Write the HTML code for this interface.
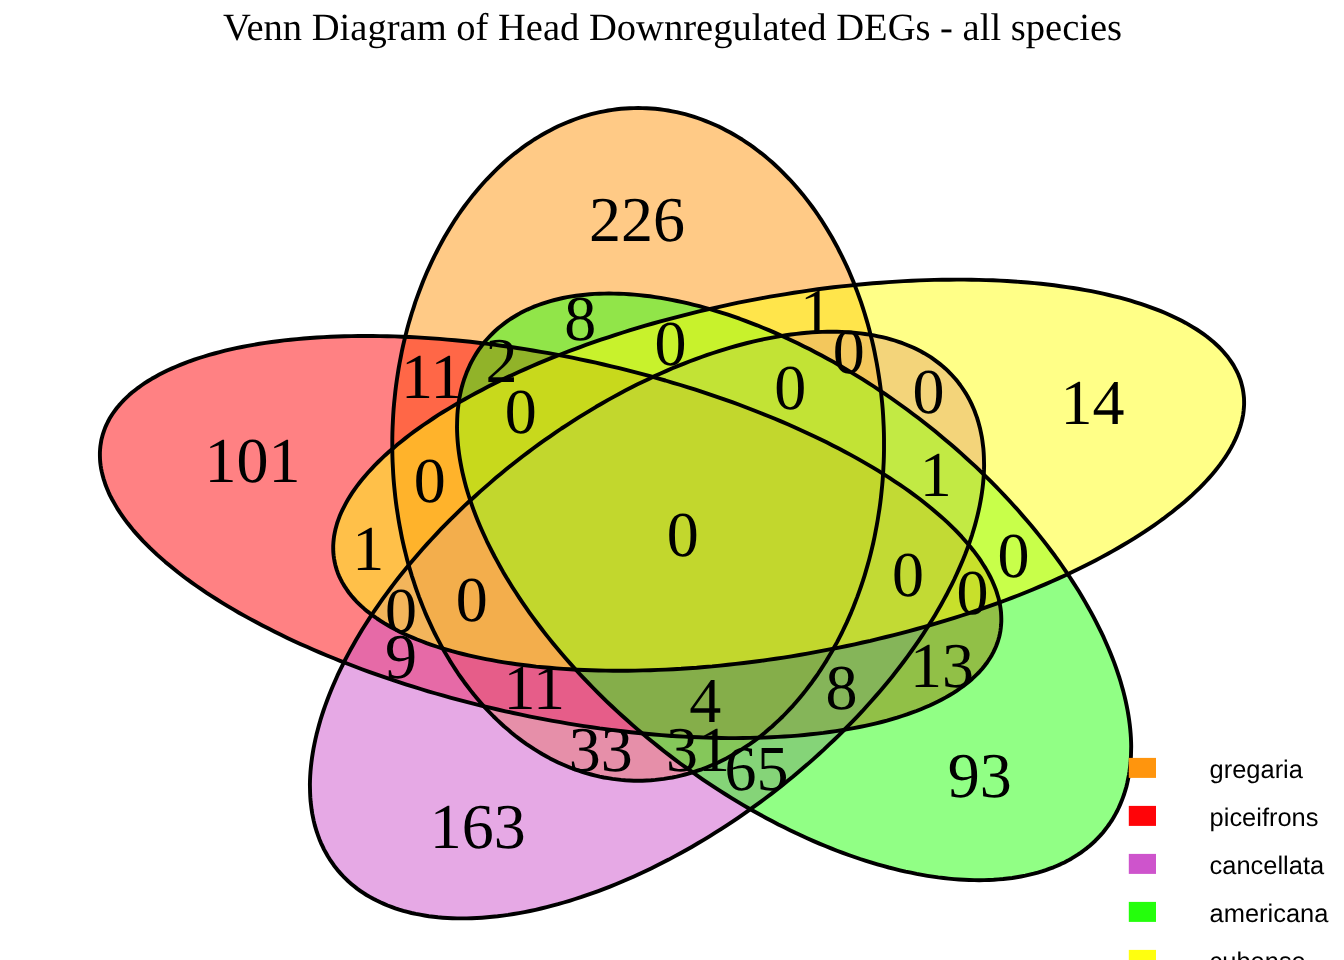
<!DOCTYPE html>
<html><head><meta charset="utf-8"><title>Venn Diagram</title>
<style>
html,body{margin:0;padding:0;background:#fff;}
body{width:1344px;height:960px;overflow:hidden;position:relative;}
svg{position:absolute;left:0;top:0;display:block;will-change:transform;}
text{text-rendering:geometricPrecision;}
.n{font-family:"Liberation Serif",serif;font-size:64px;fill:#000;text-anchor:middle;}
.t{font-family:"Liberation Serif",serif;font-size:38.55px;fill:#000;text-anchor:middle;}
.l{font-family:"Liberation Sans",sans-serif;font-size:25.45px;fill:#000;}
</style></head><body>
<svg width="1344" height="960" viewBox="0 0 1344 960">
<rect width="1344" height="960" fill="#fff"/>

<g stroke="none" fill-opacity="0.5">
<path d="M884.0,444.4L884.0,438.5L883.9,432.6L883.7,426.8L883.4,420.9L883.1,415.1L882.7,409.2L882.2,403.4L881.6,397.6L881.0,391.8L880.3,386.0L879.5,380.2L878.6,374.4L877.7,368.7L876.7,363.0L875.6,357.3L874.5,351.7L873.3,346.0L872.0,340.4L870.6,334.9L869.2,329.3L867.7,323.8L866.1,318.4L864.5,313.0L862.8,307.6L861.0,302.2L859.1,296.9L857.2,291.7L855.2,286.5L853.2,281.3L851.1,276.2L848.9,271.1L846.7,266.1L844.3,261.2L842.0,256.3L839.5,251.5L837.1,246.7L834.5,242.0L831.9,237.3L829.2,232.7L826.5,228.2L823.7,223.7L820.9,219.3L818.0,215.0L815.0,210.7L812.0,206.5L808.9,202.4L805.8,198.4L802.7,194.4L799.4,190.5L796.2,186.7L792.9,183.0L789.5,179.3L786.1,175.8L782.7,172.3L779.2,168.9L775.6,165.5L772.1,162.3L768.4,159.1L764.8,156.1L761.1,153.1L757.3,150.2L753.6,147.4L749.8,144.7L745.9,142.1L742.1,139.5L738.2,137.1L734.2,134.8L730.3,132.5L726.3,130.4L722.2,128.3L718.2,126.3L714.1,124.5L710.0,122.7L705.9,121.1L701.8,119.5L697.6,118.0L693.5,116.6L689.3,115.4L685.1,114.2L680.8,113.1L676.6,112.2L672.4,111.3L668.1,110.5L663.9,109.9L659.6,109.3L655.3,108.8L651.0,108.5L646.7,108.2L642.4,108.1L638.2,108.0L633.9,108.1L629.6,108.2L625.3,108.5L621.0,108.8L616.7,109.3L612.5,109.9L608.2,110.5L603.9,111.3L599.7,112.2L595.5,113.1L591.2,114.2L587.0,115.4L582.8,116.6L578.7,118.0L574.5,119.5L570.4,121.1L566.3,122.7L562.2,124.5L558.1,126.3L554.1,128.3L550.0,130.4L546.1,132.5L542.1,134.8L538.2,137.1L534.2,139.5L530.4,142.1L526.5,144.7L522.7,147.4L519.0,150.2L515.2,153.1L511.5,156.1L507.9,159.1L504.2,162.3L500.7,165.5L497.1,168.9L493.6,172.3L490.2,175.8L486.8,179.3L483.4,183.0L480.1,186.7L476.9,190.5L473.6,194.4L470.5,198.4L467.4,202.4L464.3,206.5L461.3,210.7L458.3,215.0L455.4,219.3L452.6,223.7L449.8,228.2L447.1,232.7L444.4,237.3L441.8,242.0L439.3,246.7L436.8,251.5L434.3,256.3L432.0,261.2L429.7,266.1L427.4,271.1L425.2,276.2L423.1,281.3L421.1,286.5L419.1,291.7L417.2,296.9L415.3,302.2L413.6,307.6L411.8,313.0L410.2,318.4L408.6,323.8L407.1,329.3L405.7,334.9L404.3,340.4L403.0,346.0L401.8,351.7L400.7,357.3L399.6,363.0L398.6,368.7L397.7,374.4L396.8,380.2L396.0,386.0L395.3,391.8L394.7,397.6L394.1,403.4L393.6,409.2L393.2,415.1L392.9,420.9L392.6,426.8L392.4,432.6L392.3,438.5L392.3,444.4L392.3,450.2L392.4,456.1L392.6,462.0L392.9,467.8L393.2,473.7L393.6,479.5L394.1,485.4L394.7,491.2L395.3,497.0L396.0,502.8L396.8,508.6L397.7,514.3L398.6,520.0L399.6,525.7L400.7,531.4L401.8,537.1L403.0,542.7L404.3,548.3L405.7,553.9L407.1,559.4L408.6,564.9L410.2,570.4L411.8,575.8L413.6,581.2L415.3,586.5L417.2,591.8L419.1,597.1L421.1,602.3L423.1,607.4L425.2,612.6L427.4,617.6L429.7,622.6L432.0,627.6L434.3,632.5L436.8,637.3L439.3,642.1L441.8,646.8L444.4,651.5L447.1,656.0L449.8,660.6L452.6,665.0L455.4,669.4L458.3,673.8L461.3,678.0L464.3,682.2L467.4,686.3L470.5,690.4L473.6,694.3L476.9,698.2L480.1,702.0L483.4,705.8L486.8,709.4L490.2,713.0L493.6,716.5L497.1,719.9L500.7,723.2L504.2,726.5L507.9,729.6L511.5,732.7L515.2,735.7L519.0,738.6L522.7,741.4L526.5,744.1L530.4,746.7L534.2,749.2L538.2,751.6L542.1,754.0L546.1,756.2L550.0,758.4L554.1,760.4L558.1,762.4L562.2,764.3L566.3,766.0L570.4,767.7L574.5,769.3L578.7,770.7L582.8,772.1L587.0,773.4L591.2,774.5L595.5,775.6L599.7,776.6L603.9,777.5L608.2,778.2L612.5,778.9L616.7,779.4L621.0,779.9L625.3,780.3L629.6,780.5L633.9,780.7L638.2,780.7L642.4,780.7L646.7,780.5L651.0,780.3L655.3,779.9L659.6,779.4L663.9,778.9L668.1,778.2L672.4,777.5L676.6,776.6L680.8,775.6L685.1,774.5L689.3,773.4L693.5,772.1L697.6,770.7L701.8,769.3L705.9,767.7L710.0,766.0L714.1,764.3L718.2,762.4L722.2,760.4L726.3,758.4L730.3,756.2L734.2,754.0L738.2,751.6L742.1,749.2L745.9,746.7L749.8,744.1L753.6,741.4L757.3,738.6L761.1,735.7L764.8,732.7L768.4,729.6L772.1,726.5L775.6,723.2L779.2,719.9L782.7,716.5L786.1,713.0L789.5,709.4L792.9,705.8L796.2,702.0L799.4,698.2L802.7,694.3L805.8,690.4L808.9,686.3L812.0,682.2L815.0,678.0L818.0,673.8L820.9,669.4L823.7,665.0L826.5,660.6L829.2,656.0L831.9,651.5L834.5,646.8L837.1,642.1L839.5,637.3L842.0,632.5L844.3,627.6L846.7,622.6L848.9,617.6L851.1,612.6L853.2,607.4L855.2,602.3L857.2,597.1L859.1,591.8L861.0,586.5L862.8,581.2L864.5,575.8L866.1,570.4L867.7,564.9L869.2,559.4L870.6,553.9L872.0,548.3L873.3,542.7L874.5,537.1L875.6,531.4L876.7,525.7L877.7,520.0L878.6,514.3L879.5,508.6L880.3,502.8L881.0,497.0L881.6,491.2L882.2,485.4L882.7,479.5L883.1,473.7L883.4,467.8L883.7,462.0L883.9,456.1L884.0,450.2Z" fill="#FF950D"/>
<path d="M466.5,701.9L474.3,703.9L482.0,705.8L489.8,707.7L497.6,709.5L505.4,711.3L513.3,713.0L521.1,714.7L529.0,716.3L536.8,717.9L544.7,719.4L552.6,720.8L560.4,722.2L568.3,723.6L576.1,724.9L584.0,726.1L591.8,727.2L599.7,728.4L607.5,729.4L615.3,730.4L623.0,731.3L630.8,732.2L638.5,733.0L646.2,733.8L653.9,734.5L661.5,735.1L669.1,735.7L676.7,736.2L684.2,736.6L691.7,737.0L699.2,737.3L706.6,737.6L713.9,737.8L721.3,738.0L728.5,738.1L735.7,738.1L742.9,738.0L749.9,737.9L757.0,737.8L763.9,737.6L770.8,737.3L777.7,736.9L784.4,736.5L791.1,736.1L797.7,735.6L804.3,735.0L810.7,734.3L817.1,733.6L823.4,732.9L829.6,732.0L835.8,731.1L841.8,730.2L847.8,729.2L853.6,728.1L859.4,727.0L865.1,725.8L870.7,724.6L876.2,723.3L881.6,722.0L886.9,720.6L892.0,719.1L897.1,717.6L902.1,716.0L907.0,714.4L911.7,712.7L916.4,711.0L920.9,709.2L925.4,707.3L929.7,705.5L933.9,703.5L938.0,701.5L941.9,699.5L945.8,697.4L949.5,695.2L953.1,693.1L956.6,690.8L959.9,688.5L963.2,686.2L966.3,683.8L969.2,681.4L972.1,678.9L974.8,676.4L977.4,673.9L979.9,671.3L982.2,668.7L984.4,666.0L986.5,663.3L988.4,660.5L990.2,657.7L991.9,654.9L993.4,652.1L994.8,649.2L996.1,646.2L997.2,643.3L998.2,640.3L999.1,637.2L999.8,634.2L1000.4,631.1L1000.8,628.0L1001.1,624.8L1001.3,621.7L1001.3,618.5L1001.2,615.3L1001.0,612.0L1000.6,608.7L1000.1,605.5L999.4,602.1L998.7,598.8L997.7,595.5L996.7,592.1L995.5,588.7L994.1,585.3L992.7,581.9L991.1,578.5L989.3,575.0L987.5,571.6L985.5,568.1L983.3,564.7L981.1,561.2L978.7,557.7L976.1,554.2L973.5,550.7L970.7,547.2L967.8,543.7L964.7,540.2L961.6,536.7L958.3,533.2L954.9,529.6L951.3,526.1L947.7,522.6L943.9,519.1L940.0,515.7L935.9,512.2L931.8,508.7L927.5,505.2L923.2,501.8L918.7,498.3L914.1,494.9L909.4,491.4L904.6,488.0L899.7,484.6L894.6,481.3L889.5,477.9L884.3,474.6L878.9,471.2L873.5,467.9L867.9,464.6L862.3,461.4L856.6,458.1L850.7,454.9L844.8,451.7L838.8,448.6L832.7,445.4L826.6,442.3L820.3,439.2L814.0,436.2L807.5,433.2L801.0,430.2L794.5,427.2L787.8,424.3L781.1,421.4L774.3,418.5L767.4,415.7L760.5,413.0L753.5,410.2L746.4,407.5L739.3,404.8L732.2,402.2L724.9,399.6L717.6,397.1L710.3,394.6L702.9,392.1L695.5,389.7L688.0,387.4L680.5,385.0L673.0,382.8L665.4,380.5L657.8,378.4L650.1,376.2L642.4,374.1L634.7,372.1L627.0,370.1L619.2,368.2L611.4,366.3L603.6,364.5L595.8,362.7L588.0,361.0L580.1,359.3L572.3,357.7L564.4,356.1L556.5,354.6L548.7,353.2L540.8,351.8L532.9,350.5L525.1,349.2L517.2,348.0L509.4,346.8L501.6,345.7L493.7,344.6L486.0,343.6L478.2,342.7L470.4,341.8L462.7,341.0L455.0,340.3L447.3,339.6L439.7,338.9L432.1,338.4L424.5,337.9L417.0,337.4L409.5,337.0L402.0,336.7L394.6,336.4L387.3,336.2L380.0,336.1L372.7,336.0L365.5,336.0L358.4,336.0L351.3,336.1L344.3,336.2L337.3,336.5L330.4,336.7L323.6,337.1L316.8,337.5L310.1,338.0L303.5,338.5L297.0,339.1L290.5,339.7L284.1,340.4L277.8,341.2L271.6,342.0L265.5,342.9L259.4,343.8L253.4,344.8L247.6,345.9L241.8,347.0L236.1,348.2L230.5,349.4L225.0,350.7L219.6,352.1L214.4,353.5L209.2,354.9L204.1,356.5L199.1,358.0L194.2,359.7L189.5,361.3L184.8,363.1L180.3,364.9L175.9,366.7L171.5,368.6L167.3,370.5L163.3,372.5L159.3,374.6L155.5,376.7L151.7,378.8L148.1,381.0L144.7,383.2L141.3,385.5L138.1,387.8L135.0,390.2L132.0,392.6L129.1,395.1L126.4,397.6L123.8,400.1L121.4,402.7L119.0,405.4L116.8,408.0L114.7,410.8L112.8,413.5L111.0,416.3L109.3,419.1L107.8,422.0L106.4,424.9L105.1,427.8L104.0,430.8L103.0,433.8L102.2,436.8L101.4,439.8L100.9,442.9L100.4,446.0L100.1,449.2L99.9,452.4L99.9,455.6L100.0,458.8L100.2,462.0L100.6,465.3L101.1,468.6L101.8,471.9L102.6,475.2L103.5,478.6L104.6,481.9L105.7,485.3L107.1,488.7L108.5,492.1L110.1,495.6L111.9,499.0L113.8,502.4L115.8,505.9L117.9,509.4L120.2,512.9L122.6,516.3L125.1,519.8L127.7,523.3L130.5,526.8L133.4,530.4L136.5,533.9L139.7,537.4L142.9,540.9L146.4,544.4L149.9,547.9L153.6,551.4L157.3,554.9L161.3,558.4L165.3,561.9L169.4,565.3L173.7,568.8L178.0,572.3L182.5,575.7L187.1,579.2L191.8,582.6L196.6,586.0L201.6,589.4L206.6,592.8L211.7,596.1L217.0,599.5L222.3,602.8L227.7,606.1L233.3,609.4L238.9,612.7L244.6,615.9L250.5,619.1L256.4,622.3L262.4,625.5L268.5,628.6L274.7,631.7L280.9,634.8L287.3,637.9L293.7,640.9L300.2,643.9L306.8,646.8L313.4,649.7L320.1,652.6L326.9,655.5L333.8,658.3L340.7,661.1L347.7,663.8L354.8,666.5L361.9,669.2L369.1,671.8L376.3,674.4L383.6,676.9L390.9,679.4L398.3,681.9L405.7,684.3L413.2,686.7L420.7,689.0L428.2,691.3L435.8,693.5L443.5,695.7L451.1,697.8L458.8,699.9Z" fill="#FF0408"/>
<path d="M445.6,524.4L440.9,529.2L436.3,534.1L431.7,539.0L427.2,543.9L422.8,548.8L418.5,553.8L414.2,558.7L409.9,563.7L405.8,568.8L401.7,573.8L397.7,578.8L393.8,583.9L390.0,589.0L386.2,594.1L382.5,599.2L378.9,604.3L375.4,609.4L371.9,614.5L368.6,619.6L365.3,624.7L362.1,629.8L359.0,635.0L356.0,640.1L353.1,645.2L350.2,650.3L347.5,655.4L344.8,660.5L342.3,665.6L339.8,670.6L337.4,675.7L335.2,680.7L333.0,685.7L330.9,690.7L328.9,695.7L327.0,700.7L325.2,705.6L323.5,710.5L321.9,715.4L320.4,720.2L319.0,725.1L317.7,729.9L316.5,734.6L315.4,739.4L314.4,744.1L313.5,748.7L312.7,753.3L312.0,757.9L311.4,762.5L310.9,767.0L310.5,771.4L310.2,775.9L310.0,780.2L309.9,784.5L310.0,788.8L310.1,793.0L310.3,797.2L310.6,801.3L311.1,805.4L311.6,809.4L312.2,813.4L313.0,817.3L313.8,821.1L314.7,824.9L315.8,828.6L316.9,832.2L318.2,835.8L319.5,839.4L320.9,842.8L322.5,846.2L324.1,849.6L325.9,852.8L327.7,856.0L329.6,859.1L331.7,862.2L333.8,865.2L336.0,868.1L338.3,870.9L340.7,873.6L343.2,876.3L345.8,878.9L348.5,881.5L351.3,883.9L354.2,886.3L357.1,888.6L360.2,890.8L363.3,892.9L366.5,895.0L369.8,896.9L373.2,898.8L376.7,900.6L380.3,902.3L383.9,903.9L387.6,905.5L391.4,906.9L395.3,908.3L399.2,909.6L403.3,910.8L407.4,911.9L411.5,913.0L415.8,913.9L420.1,914.7L424.5,915.5L428.9,916.2L433.5,916.8L438.0,917.3L442.7,917.7L447.4,918.0L452.2,918.2L457.0,918.4L461.9,918.4L466.8,918.4L471.8,918.2L476.9,918.0L482.0,917.7L487.1,917.3L492.3,916.8L497.6,916.3L502.9,915.6L508.2,914.9L513.6,914.0L519.0,913.1L524.5,912.1L530.0,911.0L535.5,909.8L541.1,908.5L546.7,907.1L552.3,905.7L558.0,904.2L563.7,902.5L569.4,900.8L575.1,899.0L580.9,897.2L586.7,895.2L592.5,893.2L598.3,891.1L604.1,888.9L610.0,886.6L615.8,884.2L621.7,881.8L627.5,879.3L633.4,876.7L639.3,874.0L645.2,871.3L651.1,868.5L656.9,865.6L662.8,862.6L668.7,859.6L674.6,856.4L680.4,853.3L686.3,850.0L692.1,846.7L697.9,843.3L703.7,839.8L709.5,836.3L715.3,832.7L721.0,829.1L726.8,825.4L732.5,821.6L738.1,817.8L743.8,813.9L749.4,809.9L755.0,805.9L760.6,801.9L766.1,797.8L771.6,793.6L777.0,789.4L782.4,785.1L787.8,780.8L793.1,776.5L798.4,772.0L803.6,767.6L808.8,763.1L813.9,758.6L819.0,754.0L824.1,749.4L829.0,744.7L834.0,740.0L838.8,735.3L843.6,730.5L848.4,725.7L853.1,720.9L857.7,716.1L862.3,711.2L866.7,706.3L871.2,701.3L875.5,696.4L879.8,691.4L884.0,686.4L888.2,681.4L892.3,676.4L896.3,671.3L900.2,666.2L904.0,661.2L907.8,656.1L911.5,651.0L915.1,645.9L918.6,640.8L922.1,635.7L925.4,630.5L928.7,625.4L931.9,620.3L935.0,615.2L938.0,610.1L940.9,605.0L943.7,599.9L946.5,594.8L949.1,589.7L951.7,584.6L954.2,579.5L956.5,574.5L958.8,569.4L961.0,564.4L963.1,559.4L965.1,554.5L967.0,549.5L968.8,544.6L970.5,539.6L972.1,534.8L973.6,529.9L975.0,525.1L976.3,520.3L977.5,515.5L978.6,510.8L979.6,506.1L980.5,501.4L981.3,496.8L982.0,492.2L982.6,487.7L983.1,483.2L983.5,478.7L983.8,474.3L984.0,469.9L984.1,465.6L984.0,461.3L983.9,457.1L983.7,452.9L983.4,448.8L982.9,444.8L982.4,440.7L981.8,436.8L981.0,432.9L980.2,429.1L979.2,425.3L978.2,421.6L977.1,417.9L975.8,414.3L974.5,410.8L973.0,407.3L971.5,403.9L969.9,400.6L968.1,397.3L966.3,394.1L964.3,391.0L962.3,388.0L960.2,385.0L958.0,382.1L955.7,379.3L953.2,376.5L950.7,373.8L948.1,371.2L945.5,368.7L942.7,366.2L939.8,363.9L936.8,361.6L933.8,359.4L930.7,357.2L927.4,355.2L924.1,353.2L920.7,351.3L917.3,349.6L913.7,347.8L910.1,346.2L906.4,344.7L902.6,343.2L898.7,341.8L894.7,340.5L890.7,339.3L886.6,338.2L882.4,337.2L878.2,336.3L873.9,335.4L869.5,334.6L865.0,334.0L860.5,333.4L855.9,332.9L851.3,332.5L846.6,332.2L841.8,331.9L837.0,331.8L832.1,331.7L827.2,331.8L822.2,331.9L817.1,332.1L812.0,332.4L806.8,332.8L801.6,333.3L796.4,333.9L791.1,334.5L785.8,335.3L780.4,336.1L774.9,337.1L769.5,338.1L764.0,339.2L758.4,340.4L752.9,341.6L747.3,343.0L741.6,344.5L736.0,346.0L730.3,347.6L724.6,349.3L718.9,351.1L713.1,353.0L707.3,354.9L701.5,357.0L695.7,359.1L689.9,361.3L684.0,363.6L678.2,365.9L672.3,368.3L666.5,370.9L660.6,373.5L654.7,376.1L648.8,378.9L642.9,381.7L637.0,384.6L631.2,387.6L625.3,390.6L619.4,393.7L613.6,396.9L607.7,400.1L601.9,403.5L596.1,406.8L590.3,410.3L584.5,413.8L578.7,417.4L572.9,421.1L567.2,424.8L561.5,428.5L555.8,432.4L550.2,436.3L544.6,440.2L539.0,444.2L533.4,448.3L527.9,452.4L522.4,456.5L517.0,460.8L511.6,465.0L506.2,469.3L500.9,473.7L495.6,478.1L490.4,482.6L485.2,487.1L480.0,491.6L475.0,496.2L469.9,500.8L464.9,505.4L460.0,510.1L455.2,514.9L450.3,519.6Z" fill="#CE54CC"/>
<path d="M995.5,486.2L990.8,481.4L985.9,476.6L981.1,471.9L976.2,467.2L971.2,462.6L966.1,458.0L961.1,453.4L955.9,448.8L950.7,444.3L945.5,439.9L940.2,435.5L934.9,431.1L929.5,426.8L924.1,422.5L918.7,418.3L913.2,414.2L907.7,410.0L902.1,406.0L896.5,402.0L890.9,398.0L885.3,394.1L879.6,390.3L873.9,386.5L868.2,382.8L862.4,379.2L856.6,375.6L850.8,372.1L845.0,368.6L839.2,365.2L833.4,361.9L827.5,358.7L821.7,355.5L815.8,352.4L809.9,349.3L804.0,346.4L798.2,343.5L792.3,340.7L786.4,337.9L780.5,335.2L774.6,332.6L768.8,330.1L762.9,327.7L757.1,325.3L751.2,323.1L745.4,320.9L739.6,318.7L733.8,316.7L728.0,314.7L722.2,312.9L716.5,311.1L710.8,309.4L705.1,307.8L699.4,306.2L693.8,304.8L688.2,303.4L682.6,302.1L677.1,301.0L671.6,299.9L666.2,298.8L660.7,297.9L655.3,297.1L650.0,296.3L644.7,295.7L639.5,295.1L634.3,294.6L629.1,294.2L624.0,293.9L618.9,293.7L613.9,293.6L609.0,293.5L604.1,293.6L599.3,293.7L594.5,293.9L589.8,294.3L585.2,294.7L580.6,295.2L576.1,295.8L571.6,296.4L567.2,297.2L562.9,298.0L558.7,299.0L554.5,300.0L550.4,301.1L546.4,302.3L542.4,303.6L538.5,305.0L534.7,306.4L531.0,308.0L527.4,309.6L523.8,311.3L520.3,313.1L517.0,315.0L513.7,317.0L510.4,319.0L507.3,321.2L504.3,323.4L501.3,325.7L498.4,328.0L495.6,330.5L493.0,333.0L490.4,335.6L487.9,338.3L485.4,341.0L483.1,343.9L480.9,346.8L478.8,349.7L476.7,352.8L474.8,355.9L473.0,359.1L471.2,362.4L469.6,365.7L468.1,369.1L466.6,372.6L465.3,376.1L464.0,379.7L462.9,383.3L461.8,387.1L460.9,390.8L460.1,394.7L459.3,398.6L458.7,402.5L458.2,406.5L457.7,410.6L457.4,414.7L457.2,418.9L457.1,423.1L457.0,427.4L457.1,431.7L457.3,436.1L457.6,440.5L458.0,445.0L458.5,449.5L459.1,454.0L459.8,458.6L460.6,463.2L461.5,467.9L462.5,472.6L463.6,477.3L464.8,482.1L466.1,486.9L467.5,491.7L469.0,496.5L470.6,501.4L472.3,506.3L474.1,511.3L476.0,516.2L478.0,521.2L480.1,526.2L482.3,531.2L484.6,536.3L486.9,541.3L489.4,546.4L492.0,551.5L494.6,556.5L497.4,561.6L500.2,566.7L503.1,571.9L506.1,577.0L509.2,582.1L512.4,587.2L515.7,592.3L519.0,597.4L522.5,602.6L526.0,607.7L529.6,612.8L533.3,617.9L537.1,623.0L540.9,628.0L544.8,633.1L548.8,638.1L552.9,643.2L557.1,648.2L561.3,653.2L565.6,658.2L569.9,663.1L574.3,668.0L578.8,673.0L583.4,677.8L588.0,682.7L592.7,687.5L597.5,692.3L602.3,697.1L607.1,701.8L612.1,706.5L617.0,711.1L622.1,715.8L627.2,720.3L632.3,724.9L637.5,729.4L642.7,733.8L648.0,738.2L653.3,742.6L658.7,746.9L664.1,751.2L669.5,755.4L675.0,759.6L680.5,763.7L686.1,767.7L691.7,771.7L697.3,775.7L702.9,779.6L708.6,783.4L714.3,787.2L720.1,790.9L725.8,794.5L731.6,798.1L737.4,801.6L743.2,805.1L749.0,808.5L754.8,811.8L760.7,815.0L766.5,818.2L772.4,821.3L778.3,824.4L784.2,827.3L790.0,830.2L795.9,833.1L801.8,835.8L807.7,838.5L813.6,841.1L819.4,843.6L825.3,846.0L831.1,848.4L837.0,850.7L842.8,852.9L848.6,855.0L854.4,857.0L860.2,859.0L866.0,860.8L871.7,862.6L877.4,864.3L883.1,865.9L888.8,867.5L894.4,868.9L900.0,870.3L905.6,871.6L911.1,872.7L916.6,873.9L922.1,874.9L927.5,875.8L932.9,876.6L938.2,877.4L943.5,878.0L948.7,878.6L954.0,879.1L959.1,879.5L964.2,879.8L969.3,880.0L974.3,880.1L979.2,880.2L984.1,880.1L988.9,880.0L993.7,879.8L998.4,879.4L1003.1,879.0L1007.6,878.5L1012.2,878.0L1016.6,877.3L1021.0,876.5L1025.3,875.7L1029.6,874.7L1033.7,873.7L1037.8,872.6L1041.9,871.4L1045.8,870.1L1049.7,868.7L1053.5,867.3L1057.2,865.7L1060.8,864.1L1064.4,862.4L1067.9,860.6L1071.3,858.7L1074.6,856.7L1077.8,854.7L1080.9,852.6L1084.0,850.3L1086.9,848.1L1089.8,845.7L1092.6,843.2L1095.3,840.7L1097.8,838.1L1100.4,835.4L1102.8,832.7L1105.1,829.8L1107.3,826.9L1109.4,824.0L1111.5,820.9L1113.4,817.8L1115.2,814.6L1117.0,811.3L1118.6,808.0L1120.1,804.6L1121.6,801.1L1122.9,797.6L1124.2,794.0L1125.3,790.4L1126.4,786.7L1127.3,782.9L1128.1,779.0L1128.9,775.1L1129.5,771.2L1130.0,767.2L1130.5,763.1L1130.8,759.0L1131.0,754.8L1131.1,750.6L1131.2,746.3L1131.1,742.0L1130.9,737.6L1130.6,733.2L1130.2,728.8L1129.7,724.3L1129.1,719.7L1128.4,715.1L1127.6,710.5L1126.7,705.8L1125.7,701.1L1124.6,696.4L1123.4,691.6L1122.1,686.9L1120.7,682.0L1119.2,677.2L1117.6,672.3L1115.9,667.4L1114.1,662.4L1112.2,657.5L1110.2,652.5L1108.1,647.5L1105.9,642.5L1103.7,637.4L1101.3,632.4L1098.8,627.3L1096.3,622.3L1093.6,617.2L1090.9,612.1L1088.0,607.0L1085.1,601.9L1082.1,596.7L1079.0,591.6L1075.8,586.5L1072.5,581.4L1069.2,576.3L1065.7,571.2L1062.2,566.0L1058.6,560.9L1054.9,555.8L1051.1,550.8L1047.3,545.7L1043.4,540.6L1039.4,535.6L1035.3,530.5L1031.2,525.5L1026.9,520.5L1022.6,515.6L1018.3,510.6L1013.9,505.7L1009.4,500.8L1004.8,495.9L1000.2,491.0Z" fill="#24FF0C"/>
<path d="M862.6,642.5L870.4,640.8L878.2,638.9L886.0,637.0L893.7,635.1L901.5,633.1L909.1,631.1L916.8,629.0L924.4,626.8L932.0,624.7L939.5,622.4L947.0,620.2L954.4,617.9L961.8,615.5L969.1,613.1L976.4,610.7L983.6,608.2L990.7,605.7L997.8,603.1L1004.9,600.5L1011.8,597.9L1018.7,595.2L1025.5,592.5L1032.3,589.7L1039.0,586.9L1045.6,584.1L1052.1,581.3L1058.5,578.4L1064.9,575.5L1071.2,572.5L1077.4,569.5L1083.5,566.5L1089.5,563.5L1095.4,560.5L1101.2,557.4L1107.0,554.3L1112.6,551.1L1118.1,548.0L1123.6,544.8L1128.9,541.6L1134.2,538.4L1139.3,535.1L1144.3,531.9L1149.2,528.6L1154.0,525.3L1158.7,522.0L1163.3,518.7L1167.7,515.3L1172.1,512.0L1176.3,508.6L1180.4,505.3L1184.4,501.9L1188.3,498.5L1192.1,495.1L1195.7,491.7L1199.2,488.3L1202.6,484.9L1205.8,481.5L1208.9,478.1L1211.9,474.7L1214.8,471.3L1217.5,467.9L1220.2,464.4L1222.6,461.0L1225.0,457.6L1227.2,454.2L1229.3,450.9L1231.2,447.5L1233.0,444.1L1234.7,440.7L1236.2,437.4L1237.6,434.0L1238.9,430.7L1240.0,427.4L1241.0,424.1L1241.9,420.8L1242.6,417.5L1243.2,414.3L1243.6,411.0L1243.9,407.8L1244.1,404.6L1244.1,401.5L1244.0,398.3L1243.7,395.2L1243.3,392.1L1242.8,389.0L1242.1,386.0L1241.3,382.9L1240.4,379.9L1239.3,377.0L1238.1,374.0L1236.7,371.1L1235.2,368.3L1233.6,365.4L1231.8,362.6L1229.9,359.8L1227.9,357.1L1225.7,354.4L1223.4,351.7L1221.0,349.1L1218.4,346.5L1215.7,344.0L1212.9,341.4L1209.9,339.0L1206.8,336.5L1203.6,334.2L1200.3,331.8L1196.8,329.5L1193.2,327.3L1189.5,325.1L1185.7,322.9L1181.7,320.8L1177.6,318.7L1173.4,316.7L1169.1,314.7L1164.7,312.8L1160.2,310.9L1155.5,309.1L1150.7,307.3L1145.9,305.6L1140.9,303.9L1135.8,302.3L1130.6,300.7L1125.3,299.2L1119.9,297.7L1114.4,296.3L1108.8,295.0L1103.1,293.7L1097.3,292.4L1091.4,291.2L1085.4,290.1L1079.3,289.0L1073.2,288.0L1066.9,287.1L1060.6,286.2L1054.1,285.3L1047.6,284.5L1041.1,283.8L1034.4,283.1L1027.7,282.5L1020.9,282.0L1014.0,281.5L1007.1,281.0L1000.1,280.6L993.0,280.3L985.9,280.1L978.7,279.9L971.4,279.7L964.1,279.6L956.7,279.6L949.3,279.7L941.9,279.8L934.4,279.9L926.8,280.1L919.2,280.4L911.6,280.7L903.9,281.1L896.2,281.6L888.4,282.1L880.7,282.7L872.9,283.3L865.1,284.0L857.2,284.7L849.3,285.6L841.4,286.4L833.5,287.3L825.6,288.3L817.7,289.3L809.8,290.4L801.8,291.6L793.9,292.8L785.9,294.1L778.0,295.4L770.0,296.7L762.1,298.2L754.2,299.6L746.2,301.2L738.3,302.7L730.4,304.4L722.6,306.1L714.7,307.8L706.9,309.6L699.1,311.4L691.3,313.3L683.5,315.3L675.8,317.3L668.1,319.3L660.5,321.4L652.9,323.5L645.3,325.7L637.8,327.9L630.3,330.2L622.9,332.5L615.5,334.9L608.2,337.3L600.9,339.7L593.7,342.2L586.5,344.7L579.5,347.3L572.4,349.9L565.5,352.5L558.6,355.2L551.7,357.9L545.0,360.6L538.3,363.4L531.7,366.2L525.2,369.1L518.7,372.0L512.4,374.9L506.1,377.8L499.9,380.8L493.8,383.8L487.8,386.8L481.9,389.9L476.0,393.0L470.3,396.1L464.7,399.2L459.1,402.4L453.7,405.6L448.4,408.8L443.1,412.0L438.0,415.2L433.0,418.5L428.1,421.8L423.3,425.0L418.6,428.4L414.0,431.7L409.5,435.0L405.2,438.4L401.0,441.7L396.8,445.1L392.9,448.5L389.0,451.8L385.2,455.2L381.6,458.6L378.1,462.0L374.7,465.4L371.5,468.8L368.3,472.3L365.3,475.7L362.5,479.1L359.7,482.5L357.1,485.9L354.6,489.3L352.3,492.7L350.1,496.1L348.0,499.5L346.1,502.9L344.3,506.3L342.6,509.6L341.0,513.0L339.6,516.3L338.4,519.7L337.2,523.0L336.3,526.3L335.4,529.6L334.7,532.8L334.1,536.1L333.7,539.3L333.4,542.5L333.2,545.7L333.2,548.9L333.3,552.0L333.6,555.2L334.0,558.3L334.5,561.3L335.2,564.4L336.0,567.4L336.9,570.4L338.0,573.4L339.2,576.3L340.6,579.2L342.1,582.1L343.7,584.9L345.5,587.7L347.4,590.5L349.4,593.3L351.6,596.0L353.9,598.6L356.3,601.3L358.9,603.8L361.6,606.4L364.4,608.9L367.4,611.4L370.5,613.8L373.7,616.2L377.0,618.5L380.5,620.8L384.1,623.1L387.8,625.3L391.6,627.5L395.6,629.6L399.6,631.7L403.8,633.7L408.2,635.7L412.6,637.6L417.1,639.5L421.8,641.3L426.5,643.1L431.4,644.8L436.4,646.5L441.5,648.1L446.7,649.6L452.0,651.2L457.4,652.6L462.9,654.0L468.5,655.4L474.2,656.7L480.0,657.9L485.9,659.1L491.9,660.2L498.0,661.3L504.1,662.3L510.4,663.3L516.7,664.2L523.1,665.0L529.6,665.8L536.2,666.6L542.9,667.2L549.6,667.8L556.4,668.4L563.3,668.9L570.2,669.3L577.2,669.7L584.3,670.0L591.4,670.3L598.6,670.5L605.9,670.6L613.2,670.7L620.5,670.7L628.0,670.7L635.4,670.6L642.9,670.4L650.5,670.2L658.1,669.9L665.7,669.6L673.4,669.2L681.1,668.8L688.8,668.2L696.6,667.7L704.4,667.0L712.2,666.4L720.1,665.6L727.9,664.8L735.8,663.9L743.7,663.0L751.7,662.0L759.6,661.0L767.5,659.9L775.5,658.8L783.4,657.6L791.4,656.3L799.3,655.0L807.3,653.6L815.2,652.2L823.1,650.7L831.0,649.2L838.9,647.6L846.8,646.0L854.7,644.3Z" fill="#FFFF0F"/>
</g>
<g fill="none" stroke="#000" stroke-width="3.9" stroke-linejoin="round">
<path d="M884.0,444.4L884.0,438.5L883.9,432.6L883.7,426.8L883.4,420.9L883.1,415.1L882.7,409.2L882.2,403.4L881.6,397.6L881.0,391.8L880.3,386.0L879.5,380.2L878.6,374.4L877.7,368.7L876.7,363.0L875.6,357.3L874.5,351.7L873.3,346.0L872.0,340.4L870.6,334.9L869.2,329.3L867.7,323.8L866.1,318.4L864.5,313.0L862.8,307.6L861.0,302.2L859.1,296.9L857.2,291.7L855.2,286.5L853.2,281.3L851.1,276.2L848.9,271.1L846.7,266.1L844.3,261.2L842.0,256.3L839.5,251.5L837.1,246.7L834.5,242.0L831.9,237.3L829.2,232.7L826.5,228.2L823.7,223.7L820.9,219.3L818.0,215.0L815.0,210.7L812.0,206.5L808.9,202.4L805.8,198.4L802.7,194.4L799.4,190.5L796.2,186.7L792.9,183.0L789.5,179.3L786.1,175.8L782.7,172.3L779.2,168.9L775.6,165.5L772.1,162.3L768.4,159.1L764.8,156.1L761.1,153.1L757.3,150.2L753.6,147.4L749.8,144.7L745.9,142.1L742.1,139.5L738.2,137.1L734.2,134.8L730.3,132.5L726.3,130.4L722.2,128.3L718.2,126.3L714.1,124.5L710.0,122.7L705.9,121.1L701.8,119.5L697.6,118.0L693.5,116.6L689.3,115.4L685.1,114.2L680.8,113.1L676.6,112.2L672.4,111.3L668.1,110.5L663.9,109.9L659.6,109.3L655.3,108.8L651.0,108.5L646.7,108.2L642.4,108.1L638.2,108.0L633.9,108.1L629.6,108.2L625.3,108.5L621.0,108.8L616.7,109.3L612.5,109.9L608.2,110.5L603.9,111.3L599.7,112.2L595.5,113.1L591.2,114.2L587.0,115.4L582.8,116.6L578.7,118.0L574.5,119.5L570.4,121.1L566.3,122.7L562.2,124.5L558.1,126.3L554.1,128.3L550.0,130.4L546.1,132.5L542.1,134.8L538.2,137.1L534.2,139.5L530.4,142.1L526.5,144.7L522.7,147.4L519.0,150.2L515.2,153.1L511.5,156.1L507.9,159.1L504.2,162.3L500.7,165.5L497.1,168.9L493.6,172.3L490.2,175.8L486.8,179.3L483.4,183.0L480.1,186.7L476.9,190.5L473.6,194.4L470.5,198.4L467.4,202.4L464.3,206.5L461.3,210.7L458.3,215.0L455.4,219.3L452.6,223.7L449.8,228.2L447.1,232.7L444.4,237.3L441.8,242.0L439.3,246.7L436.8,251.5L434.3,256.3L432.0,261.2L429.7,266.1L427.4,271.1L425.2,276.2L423.1,281.3L421.1,286.5L419.1,291.7L417.2,296.9L415.3,302.2L413.6,307.6L411.8,313.0L410.2,318.4L408.6,323.8L407.1,329.3L405.7,334.9L404.3,340.4L403.0,346.0L401.8,351.7L400.7,357.3L399.6,363.0L398.6,368.7L397.7,374.4L396.8,380.2L396.0,386.0L395.3,391.8L394.7,397.6L394.1,403.4L393.6,409.2L393.2,415.1L392.9,420.9L392.6,426.8L392.4,432.6L392.3,438.5L392.3,444.4L392.3,450.2L392.4,456.1L392.6,462.0L392.9,467.8L393.2,473.7L393.6,479.5L394.1,485.4L394.7,491.2L395.3,497.0L396.0,502.8L396.8,508.6L397.7,514.3L398.6,520.0L399.6,525.7L400.7,531.4L401.8,537.1L403.0,542.7L404.3,548.3L405.7,553.9L407.1,559.4L408.6,564.9L410.2,570.4L411.8,575.8L413.6,581.2L415.3,586.5L417.2,591.8L419.1,597.1L421.1,602.3L423.1,607.4L425.2,612.6L427.4,617.6L429.7,622.6L432.0,627.6L434.3,632.5L436.8,637.3L439.3,642.1L441.8,646.8L444.4,651.5L447.1,656.0L449.8,660.6L452.6,665.0L455.4,669.4L458.3,673.8L461.3,678.0L464.3,682.2L467.4,686.3L470.5,690.4L473.6,694.3L476.9,698.2L480.1,702.0L483.4,705.8L486.8,709.4L490.2,713.0L493.6,716.5L497.1,719.9L500.7,723.2L504.2,726.5L507.9,729.6L511.5,732.7L515.2,735.7L519.0,738.6L522.7,741.4L526.5,744.1L530.4,746.7L534.2,749.2L538.2,751.6L542.1,754.0L546.1,756.2L550.0,758.4L554.1,760.4L558.1,762.4L562.2,764.3L566.3,766.0L570.4,767.7L574.5,769.3L578.7,770.7L582.8,772.1L587.0,773.4L591.2,774.5L595.5,775.6L599.7,776.6L603.9,777.5L608.2,778.2L612.5,778.9L616.7,779.4L621.0,779.9L625.3,780.3L629.6,780.5L633.9,780.7L638.2,780.7L642.4,780.7L646.7,780.5L651.0,780.3L655.3,779.9L659.6,779.4L663.9,778.9L668.1,778.2L672.4,777.5L676.6,776.6L680.8,775.6L685.1,774.5L689.3,773.4L693.5,772.1L697.6,770.7L701.8,769.3L705.9,767.7L710.0,766.0L714.1,764.3L718.2,762.4L722.2,760.4L726.3,758.4L730.3,756.2L734.2,754.0L738.2,751.6L742.1,749.2L745.9,746.7L749.8,744.1L753.6,741.4L757.3,738.6L761.1,735.7L764.8,732.7L768.4,729.6L772.1,726.5L775.6,723.2L779.2,719.9L782.7,716.5L786.1,713.0L789.5,709.4L792.9,705.8L796.2,702.0L799.4,698.2L802.7,694.3L805.8,690.4L808.9,686.3L812.0,682.2L815.0,678.0L818.0,673.8L820.9,669.4L823.7,665.0L826.5,660.6L829.2,656.0L831.9,651.5L834.5,646.8L837.1,642.1L839.5,637.3L842.0,632.5L844.3,627.6L846.7,622.6L848.9,617.6L851.1,612.6L853.2,607.4L855.2,602.3L857.2,597.1L859.1,591.8L861.0,586.5L862.8,581.2L864.5,575.8L866.1,570.4L867.7,564.9L869.2,559.4L870.6,553.9L872.0,548.3L873.3,542.7L874.5,537.1L875.6,531.4L876.7,525.7L877.7,520.0L878.6,514.3L879.5,508.6L880.3,502.8L881.0,497.0L881.6,491.2L882.2,485.4L882.7,479.5L883.1,473.7L883.4,467.8L883.7,462.0L883.9,456.1L884.0,450.2Z"/>
<path d="M466.5,701.9L474.3,703.9L482.0,705.8L489.8,707.7L497.6,709.5L505.4,711.3L513.3,713.0L521.1,714.7L529.0,716.3L536.8,717.9L544.7,719.4L552.6,720.8L560.4,722.2L568.3,723.6L576.1,724.9L584.0,726.1L591.8,727.2L599.7,728.4L607.5,729.4L615.3,730.4L623.0,731.3L630.8,732.2L638.5,733.0L646.2,733.8L653.9,734.5L661.5,735.1L669.1,735.7L676.7,736.2L684.2,736.6L691.7,737.0L699.2,737.3L706.6,737.6L713.9,737.8L721.3,738.0L728.5,738.1L735.7,738.1L742.9,738.0L749.9,737.9L757.0,737.8L763.9,737.6L770.8,737.3L777.7,736.9L784.4,736.5L791.1,736.1L797.7,735.6L804.3,735.0L810.7,734.3L817.1,733.6L823.4,732.9L829.6,732.0L835.8,731.1L841.8,730.2L847.8,729.2L853.6,728.1L859.4,727.0L865.1,725.8L870.7,724.6L876.2,723.3L881.6,722.0L886.9,720.6L892.0,719.1L897.1,717.6L902.1,716.0L907.0,714.4L911.7,712.7L916.4,711.0L920.9,709.2L925.4,707.3L929.7,705.5L933.9,703.5L938.0,701.5L941.9,699.5L945.8,697.4L949.5,695.2L953.1,693.1L956.6,690.8L959.9,688.5L963.2,686.2L966.3,683.8L969.2,681.4L972.1,678.9L974.8,676.4L977.4,673.9L979.9,671.3L982.2,668.7L984.4,666.0L986.5,663.3L988.4,660.5L990.2,657.7L991.9,654.9L993.4,652.1L994.8,649.2L996.1,646.2L997.2,643.3L998.2,640.3L999.1,637.2L999.8,634.2L1000.4,631.1L1000.8,628.0L1001.1,624.8L1001.3,621.7L1001.3,618.5L1001.2,615.3L1001.0,612.0L1000.6,608.7L1000.1,605.5L999.4,602.1L998.7,598.8L997.7,595.5L996.7,592.1L995.5,588.7L994.1,585.3L992.7,581.9L991.1,578.5L989.3,575.0L987.5,571.6L985.5,568.1L983.3,564.7L981.1,561.2L978.7,557.7L976.1,554.2L973.5,550.7L970.7,547.2L967.8,543.7L964.7,540.2L961.6,536.7L958.3,533.2L954.9,529.6L951.3,526.1L947.7,522.6L943.9,519.1L940.0,515.7L935.9,512.2L931.8,508.7L927.5,505.2L923.2,501.8L918.7,498.3L914.1,494.9L909.4,491.4L904.6,488.0L899.7,484.6L894.6,481.3L889.5,477.9L884.3,474.6L878.9,471.2L873.5,467.9L867.9,464.6L862.3,461.4L856.6,458.1L850.7,454.9L844.8,451.7L838.8,448.6L832.7,445.4L826.6,442.3L820.3,439.2L814.0,436.2L807.5,433.2L801.0,430.2L794.5,427.2L787.8,424.3L781.1,421.4L774.3,418.5L767.4,415.7L760.5,413.0L753.5,410.2L746.4,407.5L739.3,404.8L732.2,402.2L724.9,399.6L717.6,397.1L710.3,394.6L702.9,392.1L695.5,389.7L688.0,387.4L680.5,385.0L673.0,382.8L665.4,380.5L657.8,378.4L650.1,376.2L642.4,374.1L634.7,372.1L627.0,370.1L619.2,368.2L611.4,366.3L603.6,364.5L595.8,362.7L588.0,361.0L580.1,359.3L572.3,357.7L564.4,356.1L556.5,354.6L548.7,353.2L540.8,351.8L532.9,350.5L525.1,349.2L517.2,348.0L509.4,346.8L501.6,345.7L493.7,344.6L486.0,343.6L478.2,342.7L470.4,341.8L462.7,341.0L455.0,340.3L447.3,339.6L439.7,338.9L432.1,338.4L424.5,337.9L417.0,337.4L409.5,337.0L402.0,336.7L394.6,336.4L387.3,336.2L380.0,336.1L372.7,336.0L365.5,336.0L358.4,336.0L351.3,336.1L344.3,336.2L337.3,336.5L330.4,336.7L323.6,337.1L316.8,337.5L310.1,338.0L303.5,338.5L297.0,339.1L290.5,339.7L284.1,340.4L277.8,341.2L271.6,342.0L265.5,342.9L259.4,343.8L253.4,344.8L247.6,345.9L241.8,347.0L236.1,348.2L230.5,349.4L225.0,350.7L219.6,352.1L214.4,353.5L209.2,354.9L204.1,356.5L199.1,358.0L194.2,359.7L189.5,361.3L184.8,363.1L180.3,364.9L175.9,366.7L171.5,368.6L167.3,370.5L163.3,372.5L159.3,374.6L155.5,376.7L151.7,378.8L148.1,381.0L144.7,383.2L141.3,385.5L138.1,387.8L135.0,390.2L132.0,392.6L129.1,395.1L126.4,397.6L123.8,400.1L121.4,402.7L119.0,405.4L116.8,408.0L114.7,410.8L112.8,413.5L111.0,416.3L109.3,419.1L107.8,422.0L106.4,424.9L105.1,427.8L104.0,430.8L103.0,433.8L102.2,436.8L101.4,439.8L100.9,442.9L100.4,446.0L100.1,449.2L99.9,452.4L99.9,455.6L100.0,458.8L100.2,462.0L100.6,465.3L101.1,468.6L101.8,471.9L102.6,475.2L103.5,478.6L104.6,481.9L105.7,485.3L107.1,488.7L108.5,492.1L110.1,495.6L111.9,499.0L113.8,502.4L115.8,505.9L117.9,509.4L120.2,512.9L122.6,516.3L125.1,519.8L127.7,523.3L130.5,526.8L133.4,530.4L136.5,533.9L139.7,537.4L142.9,540.9L146.4,544.4L149.9,547.9L153.6,551.4L157.3,554.9L161.3,558.4L165.3,561.9L169.4,565.3L173.7,568.8L178.0,572.3L182.5,575.7L187.1,579.2L191.8,582.6L196.6,586.0L201.6,589.4L206.6,592.8L211.7,596.1L217.0,599.5L222.3,602.8L227.7,606.1L233.3,609.4L238.9,612.7L244.6,615.9L250.5,619.1L256.4,622.3L262.4,625.5L268.5,628.6L274.7,631.7L280.9,634.8L287.3,637.9L293.7,640.9L300.2,643.9L306.8,646.8L313.4,649.7L320.1,652.6L326.9,655.5L333.8,658.3L340.7,661.1L347.7,663.8L354.8,666.5L361.9,669.2L369.1,671.8L376.3,674.4L383.6,676.9L390.9,679.4L398.3,681.9L405.7,684.3L413.2,686.7L420.7,689.0L428.2,691.3L435.8,693.5L443.5,695.7L451.1,697.8L458.8,699.9Z"/>
<path d="M445.6,524.4L440.9,529.2L436.3,534.1L431.7,539.0L427.2,543.9L422.8,548.8L418.5,553.8L414.2,558.7L409.9,563.7L405.8,568.8L401.7,573.8L397.7,578.8L393.8,583.9L390.0,589.0L386.2,594.1L382.5,599.2L378.9,604.3L375.4,609.4L371.9,614.5L368.6,619.6L365.3,624.7L362.1,629.8L359.0,635.0L356.0,640.1L353.1,645.2L350.2,650.3L347.5,655.4L344.8,660.5L342.3,665.6L339.8,670.6L337.4,675.7L335.2,680.7L333.0,685.7L330.9,690.7L328.9,695.7L327.0,700.7L325.2,705.6L323.5,710.5L321.9,715.4L320.4,720.2L319.0,725.1L317.7,729.9L316.5,734.6L315.4,739.4L314.4,744.1L313.5,748.7L312.7,753.3L312.0,757.9L311.4,762.5L310.9,767.0L310.5,771.4L310.2,775.9L310.0,780.2L309.9,784.5L310.0,788.8L310.1,793.0L310.3,797.2L310.6,801.3L311.1,805.4L311.6,809.4L312.2,813.4L313.0,817.3L313.8,821.1L314.7,824.9L315.8,828.6L316.9,832.2L318.2,835.8L319.5,839.4L320.9,842.8L322.5,846.2L324.1,849.6L325.9,852.8L327.7,856.0L329.6,859.1L331.7,862.2L333.8,865.2L336.0,868.1L338.3,870.9L340.7,873.6L343.2,876.3L345.8,878.9L348.5,881.5L351.3,883.9L354.2,886.3L357.1,888.6L360.2,890.8L363.3,892.9L366.5,895.0L369.8,896.9L373.2,898.8L376.7,900.6L380.3,902.3L383.9,903.9L387.6,905.5L391.4,906.9L395.3,908.3L399.2,909.6L403.3,910.8L407.4,911.9L411.5,913.0L415.8,913.9L420.1,914.7L424.5,915.5L428.9,916.2L433.5,916.8L438.0,917.3L442.7,917.7L447.4,918.0L452.2,918.2L457.0,918.4L461.9,918.4L466.8,918.4L471.8,918.2L476.9,918.0L482.0,917.7L487.1,917.3L492.3,916.8L497.6,916.3L502.9,915.6L508.2,914.9L513.6,914.0L519.0,913.1L524.5,912.1L530.0,911.0L535.5,909.8L541.1,908.5L546.7,907.1L552.3,905.7L558.0,904.2L563.7,902.5L569.4,900.8L575.1,899.0L580.9,897.2L586.7,895.2L592.5,893.2L598.3,891.1L604.1,888.9L610.0,886.6L615.8,884.2L621.7,881.8L627.5,879.3L633.4,876.7L639.3,874.0L645.2,871.3L651.1,868.5L656.9,865.6L662.8,862.6L668.7,859.6L674.6,856.4L680.4,853.3L686.3,850.0L692.1,846.7L697.9,843.3L703.7,839.8L709.5,836.3L715.3,832.7L721.0,829.1L726.8,825.4L732.5,821.6L738.1,817.8L743.8,813.9L749.4,809.9L755.0,805.9L760.6,801.9L766.1,797.8L771.6,793.6L777.0,789.4L782.4,785.1L787.8,780.8L793.1,776.5L798.4,772.0L803.6,767.6L808.8,763.1L813.9,758.6L819.0,754.0L824.1,749.4L829.0,744.7L834.0,740.0L838.8,735.3L843.6,730.5L848.4,725.7L853.1,720.9L857.7,716.1L862.3,711.2L866.7,706.3L871.2,701.3L875.5,696.4L879.8,691.4L884.0,686.4L888.2,681.4L892.3,676.4L896.3,671.3L900.2,666.2L904.0,661.2L907.8,656.1L911.5,651.0L915.1,645.9L918.6,640.8L922.1,635.7L925.4,630.5L928.7,625.4L931.9,620.3L935.0,615.2L938.0,610.1L940.9,605.0L943.7,599.9L946.5,594.8L949.1,589.7L951.7,584.6L954.2,579.5L956.5,574.5L958.8,569.4L961.0,564.4L963.1,559.4L965.1,554.5L967.0,549.5L968.8,544.6L970.5,539.6L972.1,534.8L973.6,529.9L975.0,525.1L976.3,520.3L977.5,515.5L978.6,510.8L979.6,506.1L980.5,501.4L981.3,496.8L982.0,492.2L982.6,487.7L983.1,483.2L983.5,478.7L983.8,474.3L984.0,469.9L984.1,465.6L984.0,461.3L983.9,457.1L983.7,452.9L983.4,448.8L982.9,444.8L982.4,440.7L981.8,436.8L981.0,432.9L980.2,429.1L979.2,425.3L978.2,421.6L977.1,417.9L975.8,414.3L974.5,410.8L973.0,407.3L971.5,403.9L969.9,400.6L968.1,397.3L966.3,394.1L964.3,391.0L962.3,388.0L960.2,385.0L958.0,382.1L955.7,379.3L953.2,376.5L950.7,373.8L948.1,371.2L945.5,368.7L942.7,366.2L939.8,363.9L936.8,361.6L933.8,359.4L930.7,357.2L927.4,355.2L924.1,353.2L920.7,351.3L917.3,349.6L913.7,347.8L910.1,346.2L906.4,344.7L902.6,343.2L898.7,341.8L894.7,340.5L890.7,339.3L886.6,338.2L882.4,337.2L878.2,336.3L873.9,335.4L869.5,334.6L865.0,334.0L860.5,333.4L855.9,332.9L851.3,332.5L846.6,332.2L841.8,331.9L837.0,331.8L832.1,331.7L827.2,331.8L822.2,331.9L817.1,332.1L812.0,332.4L806.8,332.8L801.6,333.3L796.4,333.9L791.1,334.5L785.8,335.3L780.4,336.1L774.9,337.1L769.5,338.1L764.0,339.2L758.4,340.4L752.9,341.6L747.3,343.0L741.6,344.5L736.0,346.0L730.3,347.6L724.6,349.3L718.9,351.1L713.1,353.0L707.3,354.9L701.5,357.0L695.7,359.1L689.9,361.3L684.0,363.6L678.2,365.9L672.3,368.3L666.5,370.9L660.6,373.5L654.7,376.1L648.8,378.9L642.9,381.7L637.0,384.6L631.2,387.6L625.3,390.6L619.4,393.7L613.6,396.9L607.7,400.1L601.9,403.5L596.1,406.8L590.3,410.3L584.5,413.8L578.7,417.4L572.9,421.1L567.2,424.8L561.5,428.5L555.8,432.4L550.2,436.3L544.6,440.2L539.0,444.2L533.4,448.3L527.9,452.4L522.4,456.5L517.0,460.8L511.6,465.0L506.2,469.3L500.9,473.7L495.6,478.1L490.4,482.6L485.2,487.1L480.0,491.6L475.0,496.2L469.9,500.8L464.9,505.4L460.0,510.1L455.2,514.9L450.3,519.6Z"/>
<path d="M995.5,486.2L990.8,481.4L985.9,476.6L981.1,471.9L976.2,467.2L971.2,462.6L966.1,458.0L961.1,453.4L955.9,448.8L950.7,444.3L945.5,439.9L940.2,435.5L934.9,431.1L929.5,426.8L924.1,422.5L918.7,418.3L913.2,414.2L907.7,410.0L902.1,406.0L896.5,402.0L890.9,398.0L885.3,394.1L879.6,390.3L873.9,386.5L868.2,382.8L862.4,379.2L856.6,375.6L850.8,372.1L845.0,368.6L839.2,365.2L833.4,361.9L827.5,358.7L821.7,355.5L815.8,352.4L809.9,349.3L804.0,346.4L798.2,343.5L792.3,340.7L786.4,337.9L780.5,335.2L774.6,332.6L768.8,330.1L762.9,327.7L757.1,325.3L751.2,323.1L745.4,320.9L739.6,318.7L733.8,316.7L728.0,314.7L722.2,312.9L716.5,311.1L710.8,309.4L705.1,307.8L699.4,306.2L693.8,304.8L688.2,303.4L682.6,302.1L677.1,301.0L671.6,299.9L666.2,298.8L660.7,297.9L655.3,297.1L650.0,296.3L644.7,295.7L639.5,295.1L634.3,294.6L629.1,294.2L624.0,293.9L618.9,293.7L613.9,293.6L609.0,293.5L604.1,293.6L599.3,293.7L594.5,293.9L589.8,294.3L585.2,294.7L580.6,295.2L576.1,295.8L571.6,296.4L567.2,297.2L562.9,298.0L558.7,299.0L554.5,300.0L550.4,301.1L546.4,302.3L542.4,303.6L538.5,305.0L534.7,306.4L531.0,308.0L527.4,309.6L523.8,311.3L520.3,313.1L517.0,315.0L513.7,317.0L510.4,319.0L507.3,321.2L504.3,323.4L501.3,325.7L498.4,328.0L495.6,330.5L493.0,333.0L490.4,335.6L487.9,338.3L485.4,341.0L483.1,343.9L480.9,346.8L478.8,349.7L476.7,352.8L474.8,355.9L473.0,359.1L471.2,362.4L469.6,365.7L468.1,369.1L466.6,372.6L465.3,376.1L464.0,379.7L462.9,383.3L461.8,387.1L460.9,390.8L460.1,394.7L459.3,398.6L458.7,402.5L458.2,406.5L457.7,410.6L457.4,414.7L457.2,418.9L457.1,423.1L457.0,427.4L457.1,431.7L457.3,436.1L457.6,440.5L458.0,445.0L458.5,449.5L459.1,454.0L459.8,458.6L460.6,463.2L461.5,467.9L462.5,472.6L463.6,477.3L464.8,482.1L466.1,486.9L467.5,491.7L469.0,496.5L470.6,501.4L472.3,506.3L474.1,511.3L476.0,516.2L478.0,521.2L480.1,526.2L482.3,531.2L484.6,536.3L486.9,541.3L489.4,546.4L492.0,551.5L494.6,556.5L497.4,561.6L500.2,566.7L503.1,571.9L506.1,577.0L509.2,582.1L512.4,587.2L515.7,592.3L519.0,597.4L522.5,602.6L526.0,607.7L529.6,612.8L533.3,617.9L537.1,623.0L540.9,628.0L544.8,633.1L548.8,638.1L552.9,643.2L557.1,648.2L561.3,653.2L565.6,658.2L569.9,663.1L574.3,668.0L578.8,673.0L583.4,677.8L588.0,682.7L592.7,687.5L597.5,692.3L602.3,697.1L607.1,701.8L612.1,706.5L617.0,711.1L622.1,715.8L627.2,720.3L632.3,724.9L637.5,729.4L642.7,733.8L648.0,738.2L653.3,742.6L658.7,746.9L664.1,751.2L669.5,755.4L675.0,759.6L680.5,763.7L686.1,767.7L691.7,771.7L697.3,775.7L702.9,779.6L708.6,783.4L714.3,787.2L720.1,790.9L725.8,794.5L731.6,798.1L737.4,801.6L743.2,805.1L749.0,808.5L754.8,811.8L760.7,815.0L766.5,818.2L772.4,821.3L778.3,824.4L784.2,827.3L790.0,830.2L795.9,833.1L801.8,835.8L807.7,838.5L813.6,841.1L819.4,843.6L825.3,846.0L831.1,848.4L837.0,850.7L842.8,852.9L848.6,855.0L854.4,857.0L860.2,859.0L866.0,860.8L871.7,862.6L877.4,864.3L883.1,865.9L888.8,867.5L894.4,868.9L900.0,870.3L905.6,871.6L911.1,872.7L916.6,873.9L922.1,874.9L927.5,875.8L932.9,876.6L938.2,877.4L943.5,878.0L948.7,878.6L954.0,879.1L959.1,879.5L964.2,879.8L969.3,880.0L974.3,880.1L979.2,880.2L984.1,880.1L988.9,880.0L993.7,879.8L998.4,879.4L1003.1,879.0L1007.6,878.5L1012.2,878.0L1016.6,877.3L1021.0,876.5L1025.3,875.7L1029.6,874.7L1033.7,873.7L1037.8,872.6L1041.9,871.4L1045.8,870.1L1049.7,868.7L1053.5,867.3L1057.2,865.7L1060.8,864.1L1064.4,862.4L1067.9,860.6L1071.3,858.7L1074.6,856.7L1077.8,854.7L1080.9,852.6L1084.0,850.3L1086.9,848.1L1089.8,845.7L1092.6,843.2L1095.3,840.7L1097.8,838.1L1100.4,835.4L1102.8,832.7L1105.1,829.8L1107.3,826.9L1109.4,824.0L1111.5,820.9L1113.4,817.8L1115.2,814.6L1117.0,811.3L1118.6,808.0L1120.1,804.6L1121.6,801.1L1122.9,797.6L1124.2,794.0L1125.3,790.4L1126.4,786.7L1127.3,782.9L1128.1,779.0L1128.9,775.1L1129.5,771.2L1130.0,767.2L1130.5,763.1L1130.8,759.0L1131.0,754.8L1131.1,750.6L1131.2,746.3L1131.1,742.0L1130.9,737.6L1130.6,733.2L1130.2,728.8L1129.7,724.3L1129.1,719.7L1128.4,715.1L1127.6,710.5L1126.7,705.8L1125.7,701.1L1124.6,696.4L1123.4,691.6L1122.1,686.9L1120.7,682.0L1119.2,677.2L1117.6,672.3L1115.9,667.4L1114.1,662.4L1112.2,657.5L1110.2,652.5L1108.1,647.5L1105.9,642.5L1103.7,637.4L1101.3,632.4L1098.8,627.3L1096.3,622.3L1093.6,617.2L1090.9,612.1L1088.0,607.0L1085.1,601.9L1082.1,596.7L1079.0,591.6L1075.8,586.5L1072.5,581.4L1069.2,576.3L1065.7,571.2L1062.2,566.0L1058.6,560.9L1054.9,555.8L1051.1,550.8L1047.3,545.7L1043.4,540.6L1039.4,535.6L1035.3,530.5L1031.2,525.5L1026.9,520.5L1022.6,515.6L1018.3,510.6L1013.9,505.7L1009.4,500.8L1004.8,495.9L1000.2,491.0Z"/>
<path d="M862.6,642.5L870.4,640.8L878.2,638.9L886.0,637.0L893.7,635.1L901.5,633.1L909.1,631.1L916.8,629.0L924.4,626.8L932.0,624.7L939.5,622.4L947.0,620.2L954.4,617.9L961.8,615.5L969.1,613.1L976.4,610.7L983.6,608.2L990.7,605.7L997.8,603.1L1004.9,600.5L1011.8,597.9L1018.7,595.2L1025.5,592.5L1032.3,589.7L1039.0,586.9L1045.6,584.1L1052.1,581.3L1058.5,578.4L1064.9,575.5L1071.2,572.5L1077.4,569.5L1083.5,566.5L1089.5,563.5L1095.4,560.5L1101.2,557.4L1107.0,554.3L1112.6,551.1L1118.1,548.0L1123.6,544.8L1128.9,541.6L1134.2,538.4L1139.3,535.1L1144.3,531.9L1149.2,528.6L1154.0,525.3L1158.7,522.0L1163.3,518.7L1167.7,515.3L1172.1,512.0L1176.3,508.6L1180.4,505.3L1184.4,501.9L1188.3,498.5L1192.1,495.1L1195.7,491.7L1199.2,488.3L1202.6,484.9L1205.8,481.5L1208.9,478.1L1211.9,474.7L1214.8,471.3L1217.5,467.9L1220.2,464.4L1222.6,461.0L1225.0,457.6L1227.2,454.2L1229.3,450.9L1231.2,447.5L1233.0,444.1L1234.7,440.7L1236.2,437.4L1237.6,434.0L1238.9,430.7L1240.0,427.4L1241.0,424.1L1241.9,420.8L1242.6,417.5L1243.2,414.3L1243.6,411.0L1243.9,407.8L1244.1,404.6L1244.1,401.5L1244.0,398.3L1243.7,395.2L1243.3,392.1L1242.8,389.0L1242.1,386.0L1241.3,382.9L1240.4,379.9L1239.3,377.0L1238.1,374.0L1236.7,371.1L1235.2,368.3L1233.6,365.4L1231.8,362.6L1229.9,359.8L1227.9,357.1L1225.7,354.4L1223.4,351.7L1221.0,349.1L1218.4,346.5L1215.7,344.0L1212.9,341.4L1209.9,339.0L1206.8,336.5L1203.6,334.2L1200.3,331.8L1196.8,329.5L1193.2,327.3L1189.5,325.1L1185.7,322.9L1181.7,320.8L1177.6,318.7L1173.4,316.7L1169.1,314.7L1164.7,312.8L1160.2,310.9L1155.5,309.1L1150.7,307.3L1145.9,305.6L1140.9,303.9L1135.8,302.3L1130.6,300.7L1125.3,299.2L1119.9,297.7L1114.4,296.3L1108.8,295.0L1103.1,293.7L1097.3,292.4L1091.4,291.2L1085.4,290.1L1079.3,289.0L1073.2,288.0L1066.9,287.1L1060.6,286.2L1054.1,285.3L1047.6,284.5L1041.1,283.8L1034.4,283.1L1027.7,282.5L1020.9,282.0L1014.0,281.5L1007.1,281.0L1000.1,280.6L993.0,280.3L985.9,280.1L978.7,279.9L971.4,279.7L964.1,279.6L956.7,279.6L949.3,279.7L941.9,279.8L934.4,279.9L926.8,280.1L919.2,280.4L911.6,280.7L903.9,281.1L896.2,281.6L888.4,282.1L880.7,282.7L872.9,283.3L865.1,284.0L857.2,284.7L849.3,285.6L841.4,286.4L833.5,287.3L825.6,288.3L817.7,289.3L809.8,290.4L801.8,291.6L793.9,292.8L785.9,294.1L778.0,295.4L770.0,296.7L762.1,298.2L754.2,299.6L746.2,301.2L738.3,302.7L730.4,304.4L722.6,306.1L714.7,307.8L706.9,309.6L699.1,311.4L691.3,313.3L683.5,315.3L675.8,317.3L668.1,319.3L660.5,321.4L652.9,323.5L645.3,325.7L637.8,327.9L630.3,330.2L622.9,332.5L615.5,334.9L608.2,337.3L600.9,339.7L593.7,342.2L586.5,344.7L579.5,347.3L572.4,349.9L565.5,352.5L558.6,355.2L551.7,357.9L545.0,360.6L538.3,363.4L531.7,366.2L525.2,369.1L518.7,372.0L512.4,374.9L506.1,377.8L499.9,380.8L493.8,383.8L487.8,386.8L481.9,389.9L476.0,393.0L470.3,396.1L464.7,399.2L459.1,402.4L453.7,405.6L448.4,408.8L443.1,412.0L438.0,415.2L433.0,418.5L428.1,421.8L423.3,425.0L418.6,428.4L414.0,431.7L409.5,435.0L405.2,438.4L401.0,441.7L396.8,445.1L392.9,448.5L389.0,451.8L385.2,455.2L381.6,458.6L378.1,462.0L374.7,465.4L371.5,468.8L368.3,472.3L365.3,475.7L362.5,479.1L359.7,482.5L357.1,485.9L354.6,489.3L352.3,492.7L350.1,496.1L348.0,499.5L346.1,502.9L344.3,506.3L342.6,509.6L341.0,513.0L339.6,516.3L338.4,519.7L337.2,523.0L336.3,526.3L335.4,529.6L334.7,532.8L334.1,536.1L333.7,539.3L333.4,542.5L333.2,545.7L333.2,548.9L333.3,552.0L333.6,555.2L334.0,558.3L334.5,561.3L335.2,564.4L336.0,567.4L336.9,570.4L338.0,573.4L339.2,576.3L340.6,579.2L342.1,582.1L343.7,584.9L345.5,587.7L347.4,590.5L349.4,593.3L351.6,596.0L353.9,598.6L356.3,601.3L358.9,603.8L361.6,606.4L364.4,608.9L367.4,611.4L370.5,613.8L373.7,616.2L377.0,618.5L380.5,620.8L384.1,623.1L387.8,625.3L391.6,627.5L395.6,629.6L399.6,631.7L403.8,633.7L408.2,635.7L412.6,637.6L417.1,639.5L421.8,641.3L426.5,643.1L431.4,644.8L436.4,646.5L441.5,648.1L446.7,649.6L452.0,651.2L457.4,652.6L462.9,654.0L468.5,655.4L474.2,656.7L480.0,657.9L485.9,659.1L491.9,660.2L498.0,661.3L504.1,662.3L510.4,663.3L516.7,664.2L523.1,665.0L529.6,665.8L536.2,666.6L542.9,667.2L549.6,667.8L556.4,668.4L563.3,668.9L570.2,669.3L577.2,669.7L584.3,670.0L591.4,670.3L598.6,670.5L605.9,670.6L613.2,670.7L620.5,670.7L628.0,670.7L635.4,670.6L642.9,670.4L650.5,670.2L658.1,669.9L665.7,669.6L673.4,669.2L681.1,668.8L688.8,668.2L696.6,667.7L704.4,667.0L712.2,666.4L720.1,665.6L727.9,664.8L735.8,663.9L743.7,663.0L751.7,662.0L759.6,661.0L767.5,659.9L775.5,658.8L783.4,657.6L791.4,656.3L799.3,655.0L807.3,653.6L815.2,652.2L823.1,650.7L831.0,649.2L838.9,647.6L846.8,646.0L854.7,644.3Z"/>
</g>
<g>
<text class="n" x="637.1" y="240.8">226</text>
<text class="n" x="252.5" y="482.4">101</text>
<text class="n" x="477.8" y="848.0">163</text>
<text class="n" x="979.8" y="796.8">93</text>
<text class="n" x="1092.5" y="423.9">14</text>
<text class="n" x="928.6" y="412.9">0</text>
<text class="n" x="815.9" y="332.5">1</text>
<text class="n" x="580.3" y="339.8">8</text>
<text class="n" x="431.7" y="398.3">11</text>
<text class="n" x="368.2" y="570.1">1</text>
<text class="n" x="401.0" y="677.6">9</text>
<text class="n" x="600.7" y="771.2">33</text>
<text class="n" x="756.5" y="789.5">65</text>
<text class="n" x="941.9" y="687.1">13</text>
<text class="n" x="1013.6" y="577.4">0</text>
<text class="n" x="935.7" y="495.5">1</text>
<text class="n" x="848.7" y="372.7">0</text>
<text class="n" x="670.4" y="364.7">0</text>
<text class="n" x="501.4" y="382.2">2</text>
<text class="n" x="429.7" y="502.1">0</text>
<text class="n" x="401.0" y="632.3">0</text>
<text class="n" x="534.2" y="709.1">11</text>
<text class="n" x="698.1" y="771.2">31</text>
<text class="n" x="841.5" y="709.1">8</text>
<text class="n" x="972.6" y="614.0">0</text>
<text class="n" x="908.1" y="595.7">0</text>
<text class="n" x="790.3" y="408.5">0</text>
<text class="n" x="520.8" y="432.7">0</text>
<text class="n" x="471.7" y="621.3">0</text>
<text class="n" x="705.2" y="721.5">4</text>
<text class="n" x="682.7" y="555.5">0</text>
<text class="t" x="672.5" y="40.2">Venn Diagram of Head Downregulated DEGs - all species</text>
<rect x="1128.8" y="757.9" width="27.2" height="20" fill="#FF950D"/>
<text class="l" x="1209.6" y="778.2">gregaria</text>
<rect x="1128.8" y="805.9" width="27.2" height="20" fill="#FF0408"/>
<text class="l" x="1209.6" y="826.2">piceifrons</text>
<rect x="1128.8" y="853.9" width="27.2" height="20" fill="#CE54CC"/>
<text class="l" x="1209.6" y="874.2">cancellata</text>
<rect x="1128.8" y="901.9" width="27.2" height="20" fill="#24FF0C"/>
<text class="l" x="1209.6" y="922.2">americana</text>
<rect x="1128.8" y="949.9" width="27.2" height="20" fill="#FFFF0F"/>
<text class="l" x="1209.6" y="970.2">cubense</text>
</g>
</svg></body></html>
